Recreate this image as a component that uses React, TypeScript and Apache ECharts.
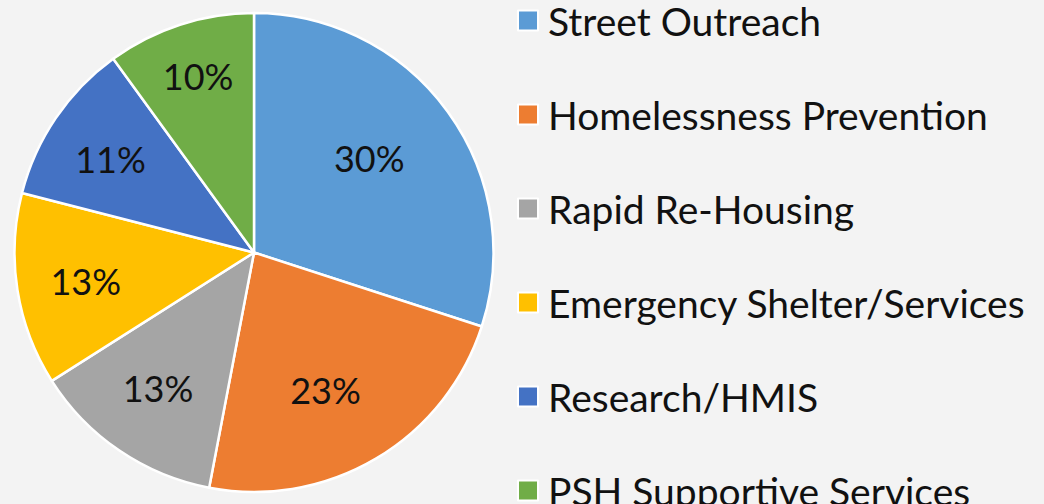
import React, { useEffect, useRef } from "react";
import * as echarts from "echarts";

const categories = [
  "Street Outreach",
  "Homelessness Prevention",
  "Rapid Re-Housing",
  "Emergency Shelter/Services",
  "Research/HMIS",
  "PSH Supportive Services",
];
const values = [30, 23, 13, 13, 11, 10];
const colors = ["#5B9BD5", "#ED7D31", "#A5A5A5", "#FFC000", "#4472C4", "#70AD47"];

// label nudges (px) from the default inside position
const labelShift: [number, number][] = [
  [16, -22],
  [9, 32],
  [-27, 34],
  [-47, 9],
  [-42, -25],
  [-18, -60],
];

const FONT = "Lato, 'Open Sans', sans-serif";

export default function App() {
  const ref = useRef<HTMLDivElement>(null);
  useEffect(() => {
    if (!ref.current) return;
    const chart = echarts.init(ref.current, null, { renderer: "svg" });
    chart.setOption({
      animation: false,
      backgroundColor: "#f3f3f3",
      legend: {
        orient: "vertical",
        left: 517,
        top: 1,
        height: 600,
        padding: 0,
        itemWidth: 20,
        itemHeight: 20,
        itemGap: 55,
        icon: "rect",
        data: categories,
        textStyle: {
          fontFamily: FONT,
          fontSize: 39,
          color: "#111",
          padding: [0, 0, 0, 5],
        },
      },
      series: [
        {
          type: "pie",
          center: [254, 252.5],
          radius: [0, 239.5],
          startAngle: 90,
          clockwise: true,
          data: categories.map((name, i) => ({
            name,
            value: values[i],
            itemStyle: { color: colors[i] },
          })),
          itemStyle: { borderColor: "#ffffff", borderWidth: 2.5 },
          label: {
            show: true,
            position: "inside",
            formatter: (p: any) => p.value + "%",
            fontFamily: FONT,
            fontSize: 36,
            color: "#111",
          },
          labelLine: { show: false },
          labelLayout: (p: any) => ({
            dx: labelShift[p.dataIndex][0],
            dy: labelShift[p.dataIndex][1],
          }),
          emphasis: { disabled: true },
        },
      ],
    });
    return () => chart.dispose();
  }, []);
  return (
    <div
      ref={ref}
      style={{ position: "absolute", left: 0, top: 0, width: 1044, height: 504 }}
    />
  );
}
